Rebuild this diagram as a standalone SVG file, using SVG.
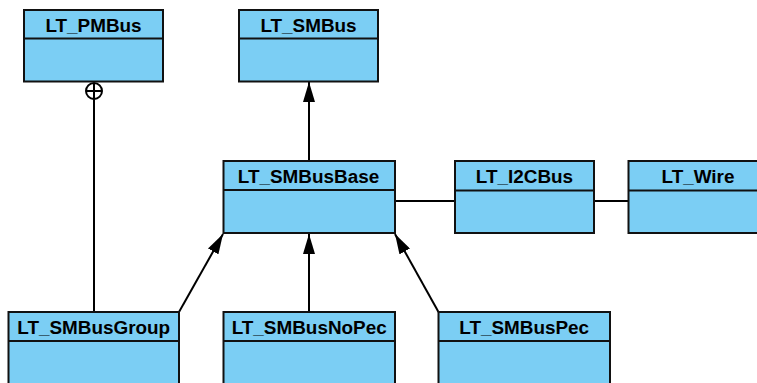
<svg xmlns="http://www.w3.org/2000/svg" width="757" height="383" viewBox="0 0 757 383">
  <style>
    .box { fill: #7BCEF4; stroke: #111; stroke-width: 2; }
    .div { stroke: #111; stroke-width: 2; }
    .title { font-family: "Liberation Sans", Arial, sans-serif; font-weight: bold; font-size: 18.9px; fill: #000; text-anchor: middle; }
    .edge { fill: none; stroke: #000; stroke-width: 2; }
  </style>
  <defs>
    <marker id="tri" viewBox="0 0 20 12" refX="20" refY="6" markerWidth="20" markerHeight="12" markerUnits="userSpaceOnUse" orient="auto">
      <path d="M0,0 L20,6 L0,12 Z" fill="#000"/>
    </marker>
  </defs>
  <rect width="757" height="383" fill="#fff"/>

  <g id="connectors">
    <!-- LT_SMBusBase generalises LT_SMBus -->
    <line class="edge" x1="309" y1="161" x2="309" y2="82" marker-end="url(#tri)"/>
    <!-- subclasses of LT_SMBusBase -->
    <line class="edge" x1="179" y1="312" x2="223" y2="234" marker-end="url(#tri)"/>
    <line class="edge" x1="309" y1="312" x2="309" y2="234" marker-end="url(#tri)"/>
    <line class="edge" x1="438.5" y1="312" x2="395" y2="234" marker-end="url(#tri)"/>
    <!-- associations -->
    <line class="edge" x1="395" y1="201" x2="455" y2="201"/>
    <line class="edge" x1="594" y1="201" x2="628" y2="201"/>
    <!-- nesting: LT_SMBusGroup inside LT_PMBus -->
    <line class="edge" x1="94" y1="312" x2="94" y2="99"/>
    <circle class="edge" cx="94" cy="91" r="8"/>
    <line class="edge" x1="86" y1="91" x2="102" y2="91"/>
    <line class="edge" x1="94" y1="83" x2="94" y2="99"/>
  </g>

  <g id="LT_PMBus">
    <rect class="box" x="24" y="10" width="139" height="71.5"/>
    <line class="div" x1="24" y1="38.5" x2="163" y2="38.5"/>
    <text class="title" x="93.5" y="31.5">LT_PMBus</text>
  </g>

  <g id="LT_SMBus">
    <rect class="box" x="239" y="10" width="139" height="71.5"/>
    <line class="div" x1="239" y1="38.5" x2="378" y2="38.5"/>
    <text class="title" x="308.5" y="31.5">LT_SMBus</text>
  </g>

  <g id="LT_SMBusBase">
    <rect class="box" x="223.5" y="161" width="171.5" height="72"/>
    <line class="div" x1="223.5" y1="190" x2="395" y2="190"/>
    <text class="title" x="308.5" y="183">LT_SMBusBase</text>
  </g>

  <g id="LT_I2CBus">
    <rect class="box" x="455" y="161" width="139" height="72"/>
    <line class="div" x1="455" y1="190.5" x2="594" y2="190.5"/>
    <text class="title" x="524.5" y="183">LT_I2CBus</text>
  </g>

  <g id="LT_Wire">
    <rect class="box" x="628.5" y="161" width="139" height="72"/>
    <line class="div" x1="628.5" y1="190.5" x2="767.5" y2="190.5"/>
    <text class="title" x="698" y="183">LT_Wire</text>
  </g>

  <g id="LT_SMBusGroup">
    <rect class="box" x="8.5" y="312" width="170.5" height="80"/>
    <line class="div" x1="8.5" y1="341" x2="179" y2="341"/>
    <text class="title" x="93.7" y="334">LT_SMBusGroup</text>
  </g>

  <g id="LT_SMBusNoPec">
    <rect class="box" x="223.5" y="312" width="171.5" height="80"/>
    <line class="div" x1="223.5" y1="341" x2="395" y2="341"/>
    <text class="title" x="309.2" y="334">LT_SMBusNoPec</text>
  </g>

  <g id="LT_SMBusPec">
    <rect class="box" x="438.5" y="312" width="171.5" height="80"/>
    <line class="div" x1="438.5" y1="341" x2="610" y2="341"/>
    <text class="title" x="524.2" y="334">LT_SMBusPec</text>
  </g>
</svg>
